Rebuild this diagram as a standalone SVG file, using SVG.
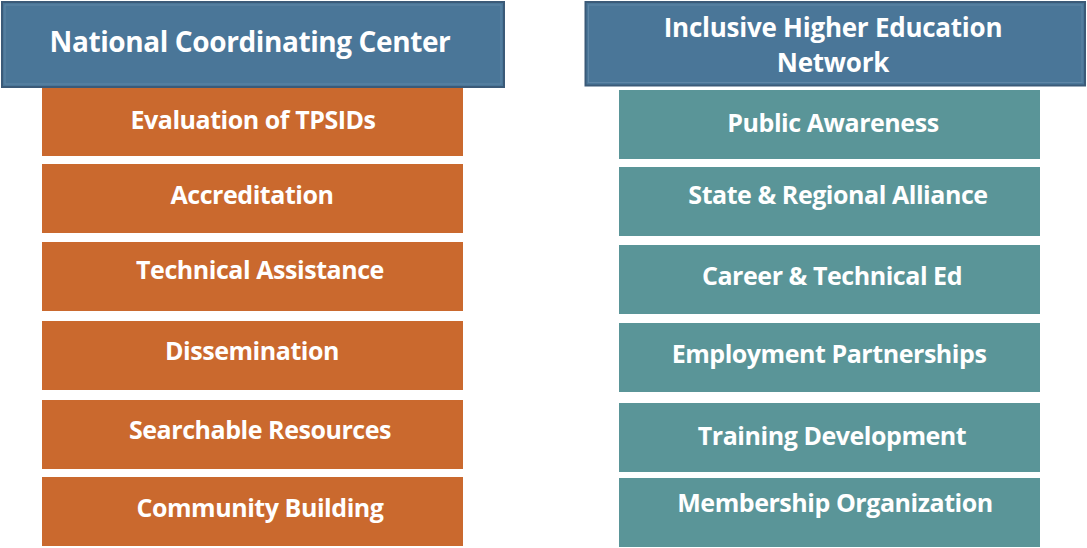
<svg xmlns="http://www.w3.org/2000/svg" width="1087" height="548" viewBox="0 0 1087 548">
<style>
.hdr{fill:#4A7698;stroke:#3B5A78;stroke-width:2}
.hin{fill:none;stroke:#5F86A6;stroke-width:1}
.org{fill:#CA692E}
.teal{fill:#5A9598}
text{font-family:"Open Sans","Noto Sans",sans-serif;font-weight:bold;fill:#FFFFFF;text-anchor:middle}
.ht{font-size:28px;letter-spacing:-0.4px}
.ht2{font-size:26px;letter-spacing:-0.25px}
.bt{font-size:25px;letter-spacing:-0.45px}
</style>
<rect width="1087" height="548" fill="#FFFFFF"/>
<g id="nodes">
<g id="ncc"><rect class="hdr" x="2" y="2" width="502" height="85"/><rect class="hin" x="5" y="5" width="496" height="79"/><text class="ht" x="250" y="52">National Coordinating Center</text></g>
<g id="ihen"><rect class="hdr" x="585.5" y="2" width="499.5" height="83.5"/><rect class="hin" x="588.5" y="5" width="493.5" height="77.5"/><text class="ht2" x="833" y="37">Inclusive Higher Education</text><text class="ht2" x="833" y="72">Network</text></g>
<g id="l1"><rect class="org" x="42" y="88" width="421" height="68"/><text class="bt" x="253" y="129">Evaluation of TPSIDs</text></g>
<g id="l2"><rect class="org" x="42" y="164" width="421" height="69"/><text class="bt" x="252" y="204">Accreditation</text></g>
<g id="l3"><rect class="org" x="42" y="242" width="421" height="69"/><text class="bt" x="260" y="279">Technical Assistance</text></g>
<g id="l4"><rect class="org" x="42" y="321" width="421" height="69"/><text class="bt" x="252" y="360">Dissemination</text></g>
<g id="l5"><rect class="org" x="42" y="400" width="421" height="69"/><text class="bt" x="260" y="439">Searchable Resources</text></g>
<g id="l6"><rect class="org" x="42" y="477" width="421" height="69"/><text class="bt" x="260" y="517">Community Building</text></g>
<g id="r1"><rect class="teal" x="619" y="90" width="421" height="69"/><text class="bt" x="833" y="132">Public Awareness</text></g>
<g id="r2"><rect class="teal" x="619" y="167" width="421" height="69"/><text class="bt" x="838" y="204">State &amp; Regional Alliance</text></g>
<g id="r3"><rect class="teal" x="619" y="245" width="421" height="69"/><text class="bt" x="832" y="285">Career &amp; Technical Ed</text></g>
<g id="r4"><rect class="teal" x="619" y="323" width="421" height="69"/><text class="bt" x="829" y="363">Employment Partnerships</text></g>
<g id="r5"><rect class="teal" x="619" y="403" width="421" height="69"/><text class="bt" x="832" y="445">Training Development</text></g>
<g id="r6"><rect class="teal" x="619" y="478" width="421" height="69"/><text class="bt" x="835" y="512">Membership Organization</text></g>
</g>
<g id="connectors"/>
</svg>
